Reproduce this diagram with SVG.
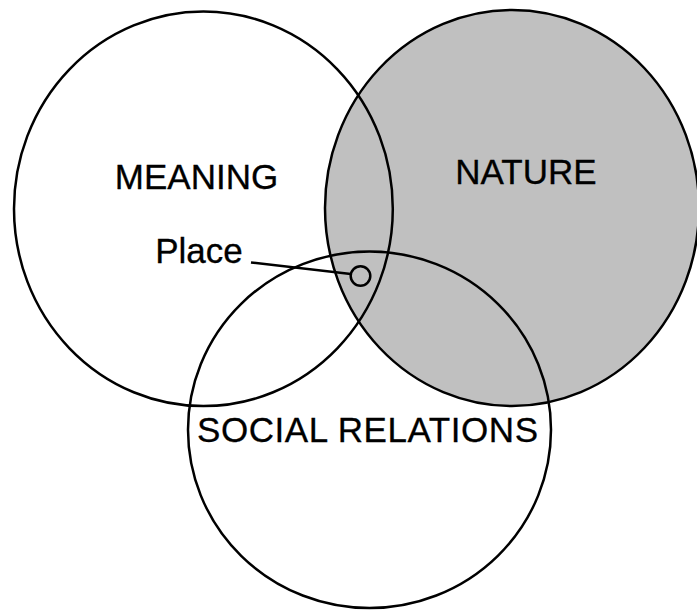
<svg xmlns="http://www.w3.org/2000/svg" width="697" height="611" viewBox="0 0 697 611">
<style>
.c{fill:none;stroke:#000;stroke-width:2.5}
.lbl{font-family:"Liberation Sans",Arial,sans-serif;font-size:35px;fill:#000;stroke:#000;stroke-width:0.3;text-anchor:middle}
</style>
<rect width="697" height="611" fill="#fff"/>
<g id="nature">
<ellipse cx="512" cy="208" rx="187" ry="198" fill="#c0c0c0" stroke="#000" stroke-width="2.5"/>
</g>
<g id="meaning">
<ellipse class="c" cx="203.4" cy="208.8" rx="189.4" ry="197.3"/>
</g>
<g id="social">
<ellipse class="c" cx="369.5" cy="429.8" rx="181.5" ry="178.2"/>
</g>
<g id="place">
<circle class="c" cx="360.5" cy="276" r="9.8"/>
</g>
<g id="connectors">
<line class="c" x1="251" y1="262.5" x2="350.8" y2="274"/>
</g>
<g id="labels">
<text class="lbl" x="196.5" y="189">MEANING</text>
<text class="lbl" x="526" y="184">NATURE</text>
<text class="lbl" x="367.5" y="442" textLength="341" lengthAdjust="spacing">SOCIAL RELATIONS</text>
<text class="lbl" x="199" y="263">Place</text>
</g>
</svg>
